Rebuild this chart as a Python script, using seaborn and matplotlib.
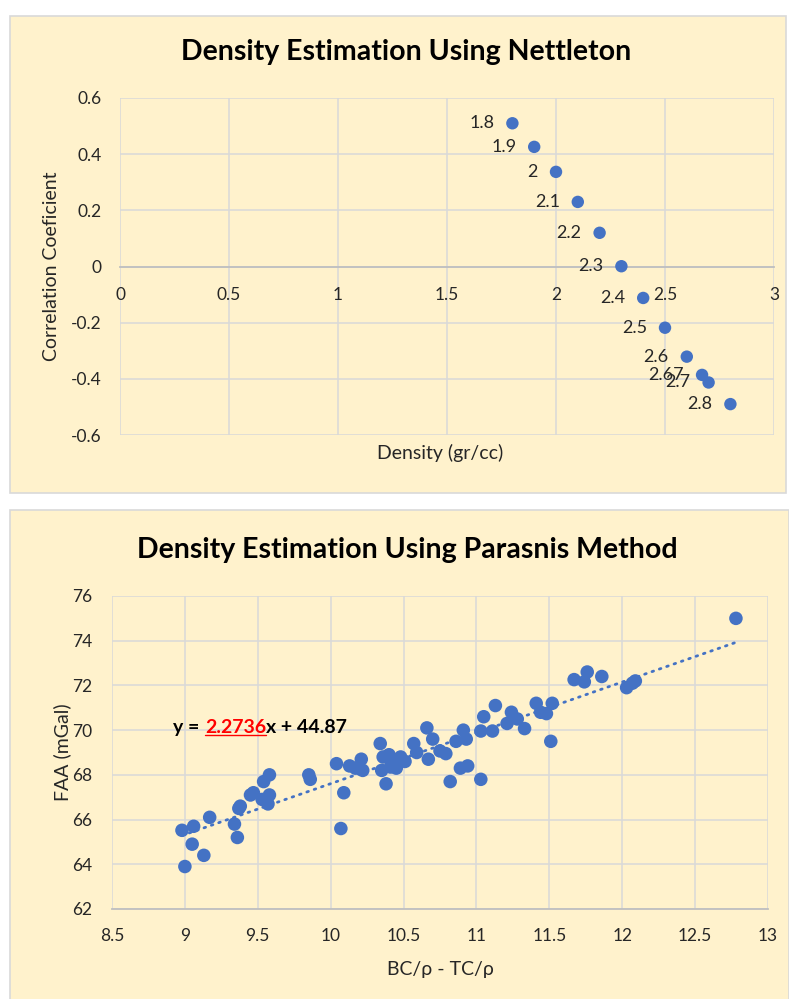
import numpy as np
import pandas as pd
import matplotlib
matplotlib.use("Agg")
import matplotlib.pyplot as plt
from matplotlib.patches import Rectangle
from matplotlib.lines import Line2D
import seaborn as sns

# ---------------- data ----------------
density = [1.8, 1.9, 2.0, 2.1, 2.2, 2.3, 2.4, 2.5, 2.6, 2.67, 2.7, 2.8]
corr_coef = [0.51, 0.426, 0.337, 0.23, 0.12, 0.001, -0.112, -0.218, -0.321, -0.386, -0.413, -0.49]

bc_tc = [8.98, 9.06, 9.05, 9.13, 9.00, 9.17, 9.34, 9.36, 9.37, 9.38,
         9.45, 9.47, 9.54, 9.58, 9.55, 9.58, 9.57, 9.53, 9.85, 9.86,
         10.04, 10.09, 10.07, 10.13, 10.17, 10.21, 10.22, 10.34, 10.36, 10.40,
         10.35, 10.38, 10.41, 10.45, 10.48, 10.51, 10.45, 10.57, 10.59, 10.66,
         10.70, 10.67, 10.75, 10.79, 10.82, 10.86, 10.91, 10.93, 10.89, 10.94,
         11.03, 11.03, 11.05, 11.11, 11.13, 11.21, 11.24, 11.28, 11.33, 11.41,
         11.44, 11.48, 11.52, 11.51, 11.67, 11.76, 11.74, 11.86, 12.03, 12.09,
         12.07, 12.78]
faa = [65.52, 65.7, 64.9, 64.4, 63.9, 66.1, 65.8, 65.2, 66.5, 66.6,
       67.1, 67.2, 67.7, 68.0, 66.9, 67.1, 66.7, 66.9, 68.0, 67.8,
       68.5, 67.2, 65.6, 68.4, 68.3, 68.7, 68.2, 69.4, 68.8, 68.9,
       68.2, 67.6, 68.35, 68.3, 68.8, 68.6, 68.65, 69.4, 69.0, 70.1,
       69.6, 68.7, 69.07, 68.95, 67.7, 69.5, 70.0, 69.6, 68.3, 68.4,
       67.8, 69.96, 70.6, 69.96, 71.1, 70.3, 70.8, 70.5, 70.07, 71.2,
       70.8, 70.74, 71.2, 69.5, 72.26, 72.6, 72.16, 72.4, 71.9, 72.2,
       72.1, 75.0]

trend_slope = 2.2736
trend_intercept = 44.87

top_xticks = [0, 0.5, 1, 1.5, 2, 2.5, 3]
top_yticks = [-0.6, -0.4, -0.2, 0, 0.2, 0.4, 0.6]
bot_xticks = [8.5, 9, 9.5, 10, 10.5, 11, 11.5, 12, 12.5, 13]
bot_yticks = [62, 64, 66, 68, 70, 72, 74, 76]

# ---------------- style ----------------
sns.set_style("white")
plt.rcParams["font.family"] = ["Lato", "DejaVu Sans"]

CREAM = "#FFF2CC"
BLUE = "#4472C4"
GRID = "#D9D9D9"
AXIS = "#BFBFBF"
TXT = "#262626"
TICK_FS = 12.5
DLABEL_FS = 13
LABEL_FS = 14
TITLE_FS = 20.5

fig = plt.figure(figsize=(7.89, 9.99), dpi=100, facecolor="white")
W, H = 789.0, 999.0

def px_rect(x0, y0, x1, y1):
    return (x0 / W, 1 - y1 / H, (x1 - x0) / W, (y1 - y0) / H)

def fx(x):
    return x / W

def fy(y):
    return 1 - y / H

# panel backgrounds
for (x0, y0, x1, y1) in [(10, 16, 786, 493), (10, 510, 789, 1003)]:
    r = px_rect(x0, y0, x1, y1)
    fig.add_artist(Rectangle(r[:2], r[2], r[3], transform=fig.transFigure,
                             facecolor=CREAM, edgecolor=GRID, linewidth=1.2, zorder=-10))

# ---------------- top chart ----------------
ax1 = fig.add_axes(px_rect(120, 98, 774, 435))
ax1.set_facecolor("none")
df1 = pd.DataFrame({"density": density, "corr": corr_coef})
sns.scatterplot(data=df1, x="density", y="corr", ax=ax1, color=BLUE, s=80,
                edgecolor="none", zorder=5)
ax1.set_xlim(0, 3)
ax1.set_ylim(-0.6, 0.6)
ax1.set_xticks(top_xticks)
ax1.set_yticks(top_yticks)
ax1.set_xticklabels([f"{v:g}" for v in top_xticks])
ax1.set_yticklabels([f"{v:g}" for v in top_yticks])
ax1.grid(True, color=GRID, linewidth=1.1)
ax1.set_axisbelow(True)
for s in ["top", "right", "left"]:
    ax1.spines[s].set_visible(False)
ax1.spines["bottom"].set_position(("data", 0))
ax1.spines["bottom"].set_color(AXIS)
ax1.spines["bottom"].set_linewidth(1.3)
ax1.tick_params(axis="both", length=0, labelsize=TICK_FS, colors=TXT)
ax1.tick_params(axis="x", pad=15)
ax1.tick_params(axis="y", pad=13)
ax1.set_xlabel("")
ax1.set_ylabel("")
for d, c in zip(density, corr_coef):
    ax1.annotate(f"{d:g}", (d, c), xytext=(-13, 0), textcoords="offset points",
                 ha="right", va="center", fontsize=DLABEL_FS, color=TXT, zorder=6)
fig.text(fx(406), fy(52), "Density Estimation Using Nettleton", ha="center",
         va="center", fontsize=TITLE_FS, fontweight="bold", color="black")
fig.text(fx(440), fy(453), "Density (gr/cc)", ha="center", va="center",
         fontsize=LABEL_FS, color=TXT)
fig.text(fx(52), fy(266), "Correlation Coeficient", ha="center", va="center",
         rotation=90, fontsize=LABEL_FS, color=TXT)

# ---------------- bottom chart ----------------
ax2 = fig.add_axes(px_rect(112, 596, 768, 909))
ax2.set_facecolor("none")
df2 = pd.DataFrame({"bc_tc": bc_tc, "faa": faa})
sns.scatterplot(data=df2, x="bc_tc", y="faa", ax=ax2, color=BLUE, s=95,
                edgecolor="none", zorder=5)
xs = np.array([min(bc_tc), max(bc_tc)])
ax2.plot(xs, trend_slope * xs + trend_intercept, color=BLUE, linewidth=2.0,
         linestyle=(0, (0.6, 2.2)), dash_capstyle="round", zorder=4)
ax2.set_xlim(8.5, 13)
ax2.set_ylim(62, 76)
ax2.set_xticks(bot_xticks)
ax2.set_yticks(bot_yticks)
ax2.set_xticklabels([f"{v:g}" for v in bot_xticks])
ax2.set_yticklabels([f"{v:g}" for v in bot_yticks])
ax2.grid(True, color=GRID, linewidth=1.1)
ax2.set_axisbelow(True)
for s in ["top", "right", "left"]:
    ax2.spines[s].set_visible(False)
ax2.spines["bottom"].set_color(AXIS)
ax2.spines["bottom"].set_linewidth(1.3)
ax2.tick_params(axis="both", length=0, labelsize=TICK_FS, colors=TXT)
ax2.tick_params(axis="x", pad=14)
ax2.tick_params(axis="y", pad=14)
ax2.set_xlabel("")
ax2.set_ylabel("")
fig.text(fx(407), fy(550), "Density Estimation Using Parasnis Method",
         ha="center", va="center", fontsize=TITLE_FS, fontweight="bold", color="black")
fig.text(fx(440), fy(970), "BC/ρ - TC/ρ", ha="center", va="center",
         fontsize=LABEL_FS, color=TXT)
fig.text(fx(62), fy(752), "FAA (mGal)", ha="center", va="center",
         rotation=90, fontsize=LABEL_FS, color=TXT)

# trendline equation
EQ_FS = 14
t1 = ax2.text(8.92, 70.13, "y =", fontsize=EQ_FS, fontweight="bold",
              color="black", ha="left", va="center", zorder=7)
t2 = ax2.annotate(f"{trend_slope:.4f}", xy=(1, 0.5), xycoords=t1,
                  xytext=(4, 0), textcoords="offset points", ha="left",
                  va="center", fontsize=EQ_FS, fontweight="bold", color="#FF0000", zorder=7)
t3 = ax2.annotate(f"x + {trend_intercept:.2f}", xy=(1, 0.5), xycoords=t2,
                  xytext=(0, 0), textcoords="offset points", ha="left",
                  va="center", fontsize=EQ_FS, fontweight="bold", color="black", zorder=7)

fig.canvas.draw()
bb = t2.get_window_extent()
inv = fig.transFigure.inverted()
(ux0, uy), (ux1, _) = inv.transform([(bb.x0, bb.y0 + 1), (bb.x1, bb.y0 + 1)])
fig.add_artist(Line2D([ux0, ux1], [uy, uy], transform=fig.transFigure,
                      color="#FF0000", linewidth=1.0))

fig.savefig("out.png", dpi=100, facecolor="white")
